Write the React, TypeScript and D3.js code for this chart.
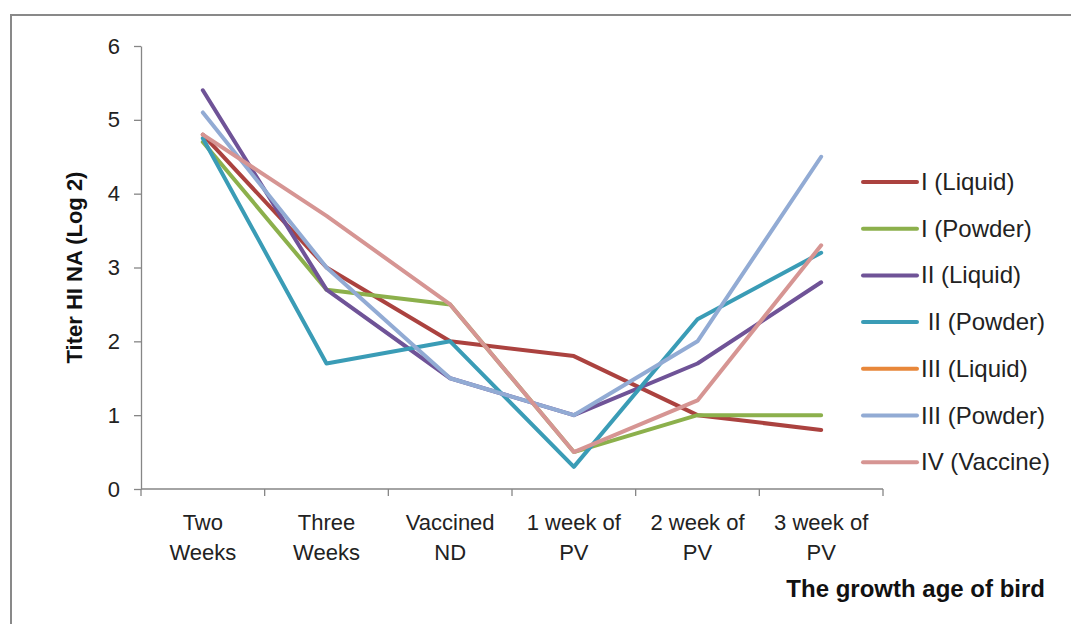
import React, { useRef, useEffect } from 'react';
import * as d3 from 'd3';

const categories = [
    ['Two', 'Weeks'],
    ['Three', 'Weeks'],
    ['Vaccined', 'ND'],
    ['1 week of', 'PV'],
    ['2 week of', 'PV'],
    ['3 week of', 'PV'],
];

const yTicks = [0, 1, 2, 3, 4, 5, 6];

const seriesNames = [
    'I (Liquid)',
    'I (Powder)',
    'II (Liquid)',
    ' II (Powder)',
    'III (Liquid)',
    'III (Powder)',
    'IV (Vaccine)',
];

const seriesColors = ['#ab423f', '#8cb04c', '#6f5397', '#3a9cb6', '#e8873a', '#92abd4', '#d69593'];

const iLiquid = [4.8, 3.0, 2.0, 1.8, 1.0, 0.8];
const iPowder = [4.7, 2.7, 2.5, 0.5, 1.0, 1.0];
const iiLiquid = [5.4, 2.7, 1.5, 1.0, 1.7, 2.8];
const iiPowder = [4.75, 1.7, 2.0, 0.3, 2.3, 3.2];
const iiiLiquid: number[] = [];
const iiiPowder = [5.1, 3.0, 1.5, 1.0, 2.0, 4.5];
const ivVaccine = [4.8, 3.7, 2.5, 0.5, 1.2, 3.3];

const seriesValues = [iLiquid, iPowder, iiLiquid, iiPowder, iiiLiquid, iiiPowder, ivVaccine];

const W = 1071;
const H = 624;

export default function App() {
    const svgRef = useRef<SVGSVGElement>(null);

    useEffect(() => {
        if (!svgRef.current) return;
        const svg = d3.select(svgRef.current);
        svg.selectAll('*').remove();

        const font = "'Liberation Sans', Arial, sans-serif";
        const left = 141, right = 883, top = 46, bottom = 489;

        svg.append('rect').attr('width', W).attr('height', H).attr('fill', '#fff');
        // outer frame (runs off right and bottom)
        svg.append('rect')
            .attr('x', 11).attr('y', 15)
            .attr('width', W + 20).attr('height', H + 20)
            .attr('fill', 'none').attr('stroke', '#898989').attr('stroke-width', 2);

        const x = d3.scaleBand<number>()
            .domain(d3.range(categories.length))
            .range([left, right]);
        const y = d3.scaleLinear().domain([0, 6]).range([bottom, top]);

        // Y axis
        const yAxis = svg.append('g')
            .attr('transform', `translate(${left},0)`)
            .call(d3.axisLeft(y).tickValues(yTicks).tickSize(7).tickSizeOuter(0).tickPadding(14).tickFormat(d3.format('d')));
        yAxis.select('.domain').attr('stroke', '#868686').attr('stroke-width', 1.3);
        yAxis.selectAll('line').attr('stroke', '#868686').attr('stroke-width', 1.3);
        yAxis.selectAll('text')
            .attr('font-family', font).attr('font-size', 22).attr('fill', '#222');

        // X axis
        const xg = svg.append('g').attr('transform', `translate(0,${bottom})`);
        xg.append('line').attr('x1', left).attr('x2', right)
            .attr('stroke', '#868686').attr('stroke-width', 1.3);
        const edges = d3.range(categories.length + 1).map(i => left + i * x.step());
        xg.selectAll('.tk').data(edges).enter().append('line')
            .attr('x1', d => d).attr('x2', d => d).attr('y1', 0).attr('y2', 7)
            .attr('stroke', '#868686').attr('stroke-width', 1.3);

        categories.forEach((c, i) => {
            const cx = x(i)! + x.bandwidth() / 2;
            const t = svg.append('text')
                .attr('x', cx)
                .attr('y', 530)
                .attr('text-anchor', 'middle')
                .attr('font-family', font).attr('font-size', 22)
                .attr('fill', '#222');
            c.forEach((s, j) => t.append('tspan')
                .attr('x', cx)
                .attr('dy', j === 0 ? 0 : 30)
                .text(s));
        });

        // Lines
        const line = d3.line<number>()
            .x((_d, i) => x(i)! + x.bandwidth() / 2)
            .y(d => y(d));

        seriesValues.forEach((vals, k) => {
            if (!vals.length) return;
            svg.append('path')
                .datum(vals)
                .attr('d', line)
                .attr('fill', 'none')
                .attr('stroke', seriesColors[k])
                .attr('stroke-width', 4)
                .attr('stroke-linejoin', 'round')
                .attr('stroke-linecap', 'round');
        });

        // Legend
        const lg = svg.append('g');
        seriesNames.forEach((name, k) => {
            const ly = 182 + k * 46.7;
            lg.append('line')
                .attr('x1', 863).attr('x2', 917).attr('y1', ly).attr('y2', ly)
                .attr('stroke', seriesColors[k]).attr('stroke-width', 4)
                .attr('stroke-linecap', 'round');
            lg.append('text')
                .attr('x', 921).attr('y', ly + 8)
                .attr('font-family', font).attr('font-size', 24)
                .attr('fill', '#222')
                .attr('xml:space', 'preserve')
                .style('white-space', 'pre')
                .text(name);
        });

        // Axis titles
        svg.append('text')
            .attr('transform', `translate(82,${(top + bottom) / 2}) rotate(-90)`)
            .attr('text-anchor', 'middle')
            .attr('font-family', font).attr('font-size', 22).attr('font-weight', 'bold')
            .attr('fill', '#111')
            .text('Titer HI NA (Log 2)');

        svg.append('text')
            .attr('x', 1045).attr('y', 597)
            .attr('text-anchor', 'end')
            .attr('font-family', font).attr('font-size', 24).attr('font-weight', 'bold')
            .attr('fill', '#111')
            .text('The growth age of bird');
    }, []);

    return (
        <svg
            ref={svgRef}
            width={W}
            height={H}
            style={{ position: 'absolute', left: 0, top: 0, display: 'block' }}
        />
    );
}
